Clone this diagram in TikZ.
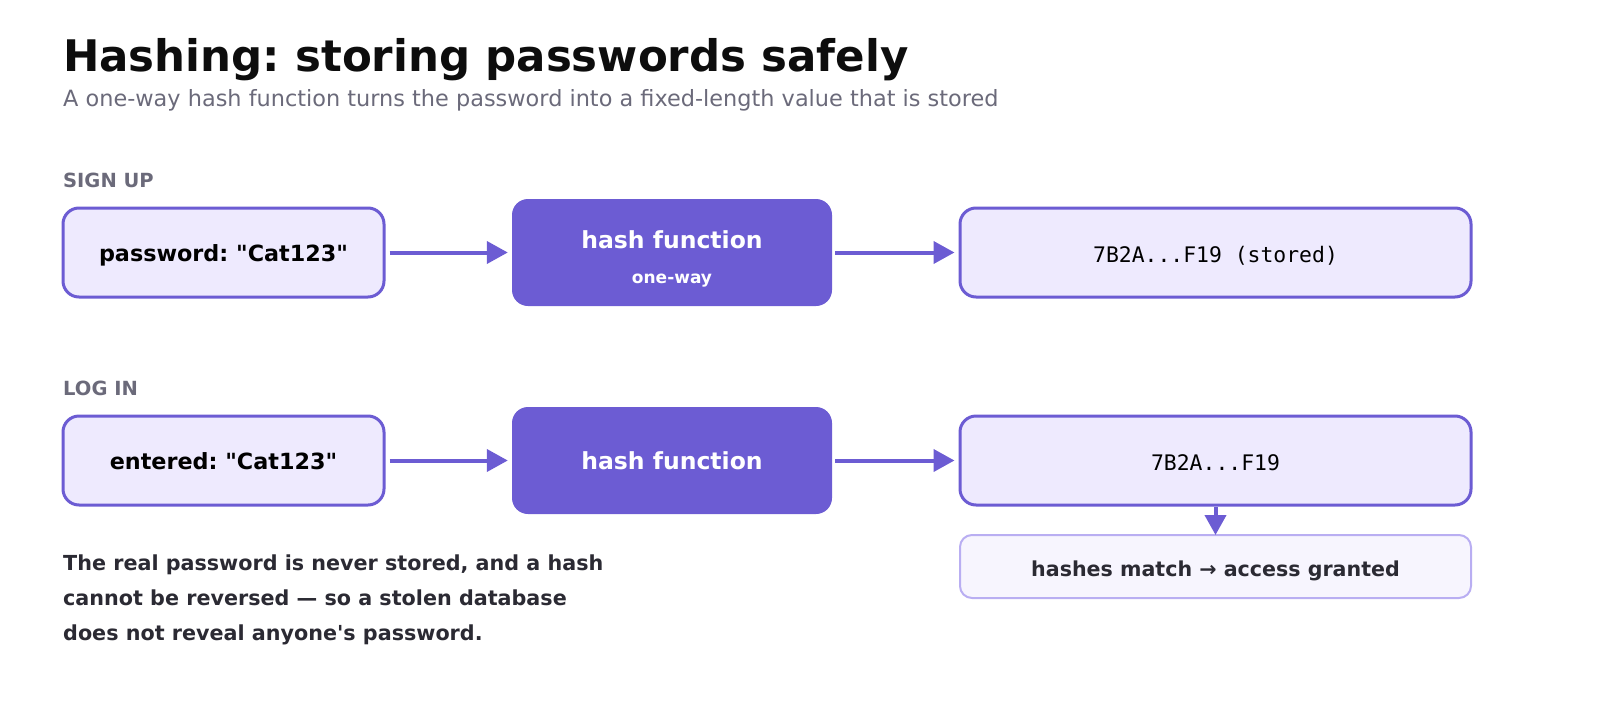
\documentclass[tikz,border=0pt]{standalone}
\usepackage{fontspec}
\setmainfont{DejaVu Sans}[Ligatures=TeXOff]
\setmonofont{DejaVu Sans Mono}
\usepackage{xcolor}
\usetikzlibrary{arrows.meta, positioning}

\definecolor{hashpurple}{HTML}{6C5CD3}
\definecolor{boxfill}{HTML}{EEEAFE}
\definecolor{resfill}{HTML}{F7F5FE}
\definecolor{resline}{HTML}{B9AEF2}
\definecolor{labelgray}{HTML}{6B6A7A}
\definecolor{notetext}{HTML}{2B2A33}
\newcommand{\fsz}[1]{\fontsize{#1}{#1}\selectfont}
\frenchspacing

\begin{document}
\begin{tikzpicture}[
  x=1pt, y=-1pt,
  inbox/.style={draw=hashpurple, fill=boxfill, line width=3pt, rounded corners=16pt,
    minimum width=321pt, minimum height=89pt, inner sep=0pt, font=\bfseries\fsz{22.3},
    text height=18pt, text depth=0pt},
  hashbox/.style={fill=hashpurple, rounded corners=16pt,
    minimum width=320pt, minimum height=107pt, inner sep=0pt},
  hashtext/.style={anchor=base, inner sep=0pt, text=white},
  outbox/.style={draw=hashpurple, fill=boxfill, line width=3pt, rounded corners=16pt,
    minimum width=511pt, minimum height=89pt, inner sep=0pt, font=\ttfamily\fsz{21.4},
    text height=19pt, text depth=0pt},
  resbox/.style={draw=resline, fill=resfill, line width=2pt, rounded corners=12pt,
    minimum width=511pt, minimum height=63pt, inner sep=0pt, text=notetext,
    font=\bfseries\fsz{20.6}, text height=19pt, text depth=0pt},
  rowlabel/.style={anchor=base west, text=labelgray, font=\bfseries\fsz{19.5}, inner sep=0pt},
  flow/.style={-{Triangle[length=21pt, width=22pt]}, draw=hashpurple, line width=4pt},
  ]
  \useasboundingbox (0,0) rectangle (1600,704);

  % --- title ---
  \node[anchor=base west, inner sep=0pt, font=\bfseries\fsz{43.5}, text=black!95] (title)
    at (63,71) {Hashing: storing passwords safely};
  \node[anchor=base west, inner sep=0pt, font=\fsz{22.4}, text=labelgray] (subtitle)
    at (63,106) {A one-way hash function turns the password into a fixed-length value that is stored};

  % --- sign up row ---
  \node[rowlabel] (signup) at (63,187) {SIGN UP};
  \node[inbox] (pw) at (223.5,252.5) {password: "Cat123"};
  \node[hashbox] (hashA) at (672,252.5) {};
  \node[hashtext, font=\bfseries\fsz{23.5}] (hashAtop) at ([yshift=4.5pt]hashA.center) {hash function};
  \node[hashtext, font=\bfseries\fsz{17}] (hashAsub) at ([yshift=-30.5pt]hashA.center) {one-way};
  \node[outbox] (stored) at (1215.5,252.5) {7B2A...F19 (stored)};

  \draw[flow] ([xshift=4pt]pw.east) -- ([xshift=-4pt]hashA.west);
  \draw[flow] ([xshift=3pt]hashA.east) -- ([xshift=-4pt]stored.west);

  % --- log in row ---
  \node[rowlabel] (login) at (63,395) {LOG IN};
  \node[inbox] (entered) at (223.5,460.5) {entered: "Cat123"};
  \node[hashbox] (hashB) at (672,460.5) {};
  \node[hashtext, font=\bfseries\fsz{23.5}] (hashBtop) at ([yshift=-9pt]hashB.center) {hash function};
  \node[outbox] (computed) at (1215.5,460.5) {7B2A...F19};
  \node[resbox] (match) at (1215.5,566.5) {hashes match → access granted};

  \draw[flow] ([xshift=4pt]entered.east) -- ([xshift=-4pt]hashB.west);
  \draw[flow] ([xshift=3pt]hashB.east) -- ([xshift=-4pt]computed.west);
  \draw[-{Triangle[length=20pt, width=21pt]}, draw=hashpurple, line width=4pt]
    (computed.south) -- ([yshift=-1pt]match.north);

  % --- note ---
  \node[anchor=base west, inner sep=0pt, align=left, text=notetext,
    font=\bfseries\fsz{20.7}, execute at begin node=\setlength{\baselineskip}{35pt}] (note)
    at (63,640.5) {The real password is never stored, and a hash\\
      cannot be reversed — so a stolen database\\
      does not reveal anyone's password.};
\end{tikzpicture}
\end{document}
